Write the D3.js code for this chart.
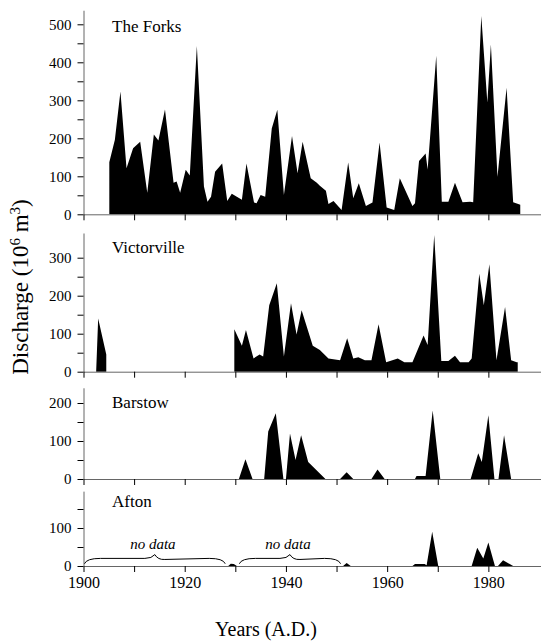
<!DOCTYPE html>
<html><head><meta charset="utf-8">
<script src="https://cdn.jsdelivr.net/npm/d3@7"></script>
<style>
body{margin:0;background:#fff}
svg text{font-family:"Liberation Serif","Times New Roman",serif !important;fill:#000}
</style>
</head><body>
<svg id="c" width="541" height="643" font-family="Liberation Serif, serif"></svg>
<script>
// ---------- DATA ----------
const stations = ["The Forks", "Victorville", "Barstow", "Afton"];

const forksYears = [1905.1,1906.2,1907.3,1908.5,1909.8,1911.2,1912.6,1913.9,1914.8,1916.1,1917.8,1918.4,1919.1,1920.2,1921.0,1922.4,1923.8,1924.5,1925.2,1926.0,1927.4,1928.4,1929.3,1931.3,1932.2,1933.7,1934.2,1935.0,1935.9,1937.2,1938.3,1939.6,1941.2,1942.3,1943.3,1944.9,1946.1,1946.7,1947.9,1948.4,1949.4,1951.0,1952.3,1953.3,1954.4,1955.8,1957.1,1958.5,1959.9,1961.4,1962.5,1965.0,1965.5,1966.3,1967.6,1968.0,1969.7,1970.8,1972.1,1973.4,1974.9,1976.4,1977.0,1978.6,1979.8,1980.5,1981.8,1983.6,1984.9,1985.9,1986.3];
const forksQ = [137,196,323,121,174,191,57,210,194,276,83,86,57,117,102,443,73,33,46,112,134,35,54,38,134,31,29,51,46,226,275,51,206,108,191,95,83,75,62,27,35,11,136,42,82,22,31,189,18,11,95,22,29,140,160,118,417,33,33,83,32,33,32,522,294,447,99,333,32,27,25];

const vicYears = [1902.5,1902.9,1904.5,1917.0,1929.8,1931.3,1932.1,1933.6,1934.8,1935.5,1936.7,1938.2,1939.6,1941.0,1942.1,1943.1,1945.3,1946.7,1948.4,1950.7,1952.1,1953.3,1954.3,1955.6,1956.9,1958.3,1959.8,1962.1,1963.4,1965.0,1967.2,1968.0,1969.3,1970.7,1972.1,1973.4,1974.4,1976.1,1976.7,1978.2,1979.1,1980.2,1981.6,1983.3,1984.5,1985.6,1985.8];
const vicQ = [0,140,45,null,112,68,110,35,45,40,175,233,40,180,98,162,68,57,35,30,88,35,38,30,30,125,25,35,25,25,95,70,360,28,28,42,25,25,35,258,175,283,30,170,30,25,25];

const barstowYears = [1930.7,1932.0,1933.4,1935.7,1936.5,1938.0,1939.5,1940.0,1940.8,1941.9,1943.0,1944.4,1947.8,1950.7,1952.0,1953.3,1956.9,1958.1,1959.5,1965.5,1965.8,1967.6,1969.0,1970.5,1976.5,1978.0,1978.7,1980.0,1981.2,1982.0,1983.1,1984.5,1986.5];
const barstowQ = [0,52,0,0,125,173,0,0,120,50,115,45,0,0,18,0,0,25,0,0,8,8,180,0,0,68,45,168,0,0,115,0,0];

const aftonYears = [1928.6,1929.1,1929.7,1930.3,1951.3,1952.0,1952.8,1965.0,1965.5,1967.4,1967.8,1968.9,1970.1,1976.7,1977.8,1979.0,1980.0,1981.3,1981.9,1982.9,1984.9];
const aftonQ = [0,6,5,0,0,8,0,0,5,5,2,90,0,0,48,20,62,0,0,15,0];

const noDataFrom = [1900.2, 1930.8];
const noDataTo   = [1928.0, 1950.8];
const noDataLabel = "no data";

const yMax = [537, 365, 240, 197];          // top of each value axis
const yTickMax = [500, 300, 200, 150];      // last tick on each value axis
const xTicks = [1900,1910,1920,1930,1940,1950,1960,1970,1980];
const xLabelTicks = [1900,1920,1940,1960,1980];

// ---------- LAYOUT ----------
const FONT = '"Liberation Serif","Times New Roman",serif';
const svg = d3.select("#c");
const x = d3.scaleLinear().domain([1900, 1990.4]).range([83.5, 541]);
const panelZero = [214.3, 371.7, 479, 566];
const pxPerUnit = 0.38;
const titleY = [31.7, 253.3, 408.3, 506.7];

const series = [
  d3.zip(forksYears, forksQ),
  d3.zip(vicYears, vicQ),
  d3.zip(barstowYears, barstowQ),
  d3.zip(aftonYears, aftonQ)
];

const ys = [];
series.forEach((data, i) => {
  const y = d3.scaleLinear().domain([0, yMax[i]]).range([panelZero[i], panelZero[i] - yMax[i]*pxPerUnit]);
  ys.push(y);
  const g = svg.append("g");

  const area = d3.area()
    .defined(d => d[1] != null)
    .x(d => x(d[0]))
    .y0(y(0))
    .y1(d => y(d[1]));
  g.append("path").datum(data).attr("d", area).attr("fill", "#000");

  // x axis (baseline + decade ticks)
  const xa = g.append("g").attr("transform", `translate(0,${y(0)})`)
    .call(d3.axisBottom(x).tickValues(xTicks).tickSize(6).tickSizeOuter(0).tickPadding(5)
      .tickFormat(d => (i === 3 && xLabelTicks.includes(d)) ? d : ""));
  xa.attr("font-family", FONT).attr("font-size", 16);
  xa.select(".domain").attr("stroke", "#666").attr("stroke-width", 1);
  xa.selectAll(".tick line").attr("stroke", "#000");
  xa.selectAll("text").attr("font-family", FONT).attr("font-size", 16);

  // y axis
  const ya = g.append("g").attr("transform", `translate(${x(1900)},0)`)
    .call(d3.axisLeft(y).tickValues(d3.range(0, yTickMax[i] + 1, 50)).tickSize(6).tickSizeOuter(0).tickPadding(6)
      .tickFormat(d => d % 100 === 0 ? d : ""));
  ya.attr("font-family", FONT).attr("font-size", 15);
  ya.select(".domain").attr("stroke", "#666").attr("stroke-width", 1);
  ya.selectAll(".tick line").attr("stroke", "#000");
  ya.selectAll("text").attr("font-family", FONT).attr("font-size", 15);

  g.append("text").attr("x", 112).attr("y", titleY[i]).attr("font-family", FONT)
    .attr("font-size", 17).text(stations[i]);
});

// no-data braces on Afton panel
const ya = ys[3];
noDataFrom.forEach((f, k) => {
  const x0 = x(f), x1 = x(noDataTo[k]), xm = (x0 + x1) / 2;
  const yEnd = ya(6), yFlat = ya(20), yMid = ya(16), yTip = ya(30);
  const p = d3.path();
  p.moveTo(x0, yEnd);
  p.quadraticCurveTo(x0 + 2, yFlat, x0 + 16, yFlat);
  p.lineTo(xm - 10, yFlat);
  p.quadraticCurveTo(xm - 3, yFlat, xm, yTip);
  p.quadraticCurveTo(xm + 3, yMid, xm + 10, yMid + (yFlat - yMid) * 0.3);
  p.lineTo(x1 - 16, yFlat);
  p.quadraticCurveTo(x1 - 2, yFlat, x1, yEnd);
  svg.append("path").attr("d", p.toString()).attr("fill", "none").attr("stroke", "#000").attr("stroke-width", 1);
  svg.append("text").attr("x", xm - 2).attr("y", ya(44)).attr("text-anchor", "middle")
    .attr("font-family", FONT).attr("font-size", 15).attr("font-style", "italic").text(noDataLabel);
});

// axis titles
const yl = svg.append("text").attr("transform", "translate(28,287) rotate(-90)")
  .attr("text-anchor", "middle").attr("font-family", FONT).attr("font-size", 23);
yl.append("tspan").text("Discharge (10");
yl.append("tspan").attr("dy", -8).attr("font-size", 15).text("6");
yl.append("tspan").attr("dy", 8).text(" m");
yl.append("tspan").attr("dy", -8).attr("font-size", 15).text("3");
yl.append("tspan").attr("dy", 8).text(")");

svg.append("text").attr("x", 266).attr("y", 636).attr("text-anchor", "middle")
  .attr("font-family", FONT).attr("font-size", 20).text("Years (A.D.)");
</script>
</body></html>
